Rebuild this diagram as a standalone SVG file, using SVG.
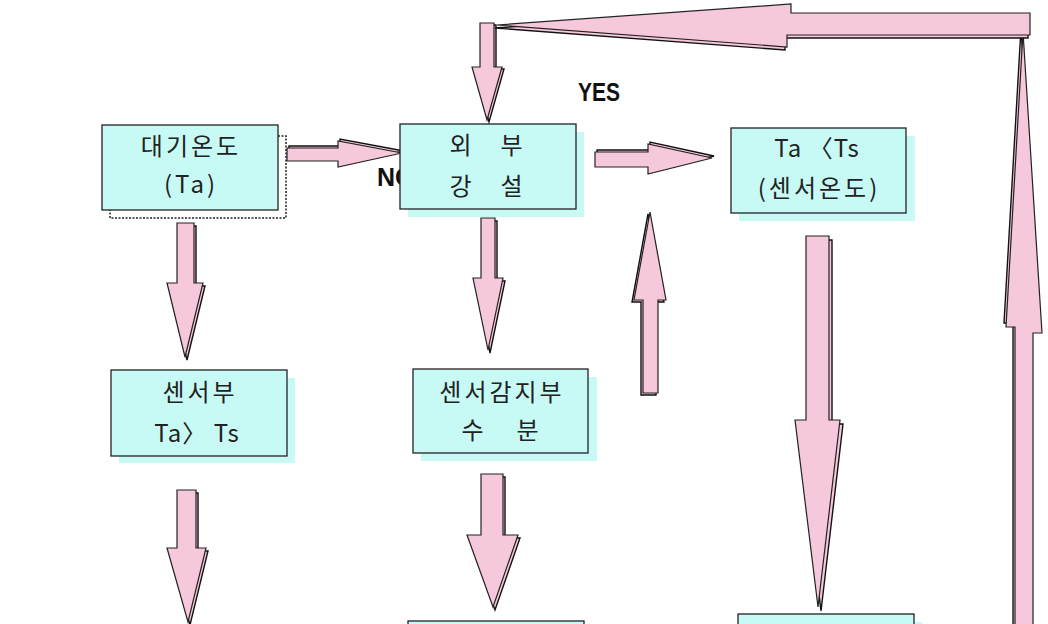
<svg xmlns="http://www.w3.org/2000/svg" width="1048" height="624" viewBox="0 0 1048 624">
<style>
.box{fill:#C8FAF5;stroke:#222;stroke-width:1.3}
.sh{fill:#C8FAF5;stroke:none}
.shd{fill:#fff;stroke:#222;stroke-width:1.5;stroke-dasharray:2 1.5}
.ar{fill:#F6C8DC;stroke:#222;stroke-width:1.2;stroke-linejoin:miter}
.as{fill:#F6C8DC;stroke:#111;stroke-width:1.4}
.t{font-family:"Noto Sans CJK KR","Noto Sans",sans-serif;font-size:24px;fill:#222;text-anchor:middle;letter-spacing:3px}
.tl{letter-spacing:1px}
.lb{font-family:"Liberation Sans",Arial,sans-serif;font-weight:bold;font-size:25px;fill:#111}
</style>
<rect width="1048" height="624" fill="#fff"/>
<g id="connectors">
  <g id="arrowA"><polygon class="as" transform="translate(2,3)" points="177,223 194,223 194,283 203,283 185,357 167,283 177,283"/><polygon class="ar" points="177,223 194,223 194,283 203,283 185,357 167,283 177,283"/></g>
  <g id="arrowB"><polygon class="as" transform="translate(2,3)" points="177,490 196,490 196,548 206,548 188,622 167,548 177,548"/><polygon class="ar" points="177,490 196,490 196,548 206,548 188,622 167,548 177,548"/></g>
  <g id="arrowC"><polygon class="as" transform="translate(2,3)" points="481,218 495,218 495,278 503,278 488,350 473,278 481,278"/><polygon class="ar" points="481,218 495,218 495,278 503,278 488,350 473,278 481,278"/></g>
  <g id="arrowD"><polygon class="as" transform="translate(2,3)" points="481,474 503,474 503,535 518,535 493,607 467,535 481,535"/><polygon class="ar" points="481,474 503,474 503,535 518,535 493,607 467,535 481,535"/></g>
  <g id="arrowE"><polygon class="as" transform="translate(2,2)" points="480,23 494,23 494,67 502,67 487,120 472,67 480,67"/><polygon class="ar" points="480,23 494,23 494,67 502,67 487,120 472,67 480,67"/></g>
  <g id="arrowF"><polygon class="as" transform="translate(2,-2)" points="287,148 338,148 338,141 402,153 338,167 338,161 287,161"/><polygon class="ar" points="287,148 338,148 338,141 402,153 338,167 338,161 287,161"/></g>
  <g id="arrowG"><polygon class="as" transform="translate(2,-2)" points="595,152 648,152 648,144 712,158 648,174 648,167 595,167"/><polygon class="ar" points="595,152 648,152 648,144 712,158 648,174 648,167 595,167"/></g>
  <g id="arrowH"><polygon class="as" transform="translate(-2,2)" points="650,212 666,300 658,300 658,393 643,393 643,300 634,300"/><polygon class="ar" points="650,212 666,300 658,300 658,393 643,393 643,300 634,300"/></g>
  <g id="arrowI"><polygon class="as" transform="translate(3,4)" points="806,236 829,236 829,420 840,420 818,607 795,420 806,420"/><polygon class="ar" points="806,236 829,236 829,420 840,420 818,607 795,420 806,420"/></g>
  <g id="arrowK"><polygon class="as" transform="translate(-2,-4)" points="1023,32 1042,333 1033,333 1033,630 1015,630 1015,327 1006,327"/><polygon class="ar" points="1023,32 1042,333 1033,333 1033,630 1015,630 1015,327 1006,327"/></g>
  <g id="arrowJ"><polygon class="as" transform="translate(-2,3)" points="1030,13 791,13 791,4 497,25 787,47 787,35 1030,35"/><polygon class="ar" points="1030,13 791,13 791,4 497,25 787,47 787,35 1030,35"/></g>
</g>
<text class="lb" x="377" y="186">NO</text>
<text class="lb" x="578" y="101" textLength="42" lengthAdjust="spacingAndGlyphs">YES</text>
<g id="node1">
  <rect class="shd" x="110" y="136" width="176" height="82"/>
  <rect class="box" x="102" y="125" width="176" height="85"/>
  <text class="t" x="191" y="155">대기온도</text>
  <text class="t" x="191" y="193">(Ta)</text>
</g>
<g id="node2">
  <rect class="sh" x="408" y="132" width="176" height="85"/>
  <rect class="box" x="400" y="124" width="176" height="85"/>
  <text class="t" y="154"><tspan x="462">외</tspan><tspan x="513">부</tspan></text>
  <text class="t" y="195"><tspan x="462">강</tspan><tspan x="513">설</tspan></text>
</g>
<g id="node3">
  <rect class="sh" x="739" y="136" width="176" height="85"/>
  <rect class="box" x="731" y="128" width="175" height="85"/>
  <text class="t tl" x="817" y="157">Ta 〈Ts</text>
  <text class="t" x="819" y="197">(센서온도)</text>
</g>
<g id="node4">
  <rect class="sh" x="119" y="378" width="176" height="85"/>
  <rect class="box" x="111" y="370" width="176" height="86"/>
  <text class="t" x="200" y="401">센서부</text>
  <text class="t tl" x="197" y="442">Ta〉 Ts</text>
</g>
<g id="node5">
  <rect class="sh" x="421" y="377" width="176" height="84"/>
  <rect class="box" x="413" y="369" width="175" height="84"/>
  <text class="t" x="502" y="401">센서감지부</text>
  <text class="t" y="439"><tspan x="474">수</tspan><tspan x="529">분</tspan></text>
</g>
<g id="node6">
  <rect class="sh" x="416" y="629" width="176" height="85"/>
  <rect class="box" x="408" y="621" width="176" height="85"/>
</g>
<g id="node7">
  <rect class="sh" x="746" y="622" width="176" height="85"/>
  <rect class="box" x="738" y="614" width="176" height="85"/>
</g>
</svg>
